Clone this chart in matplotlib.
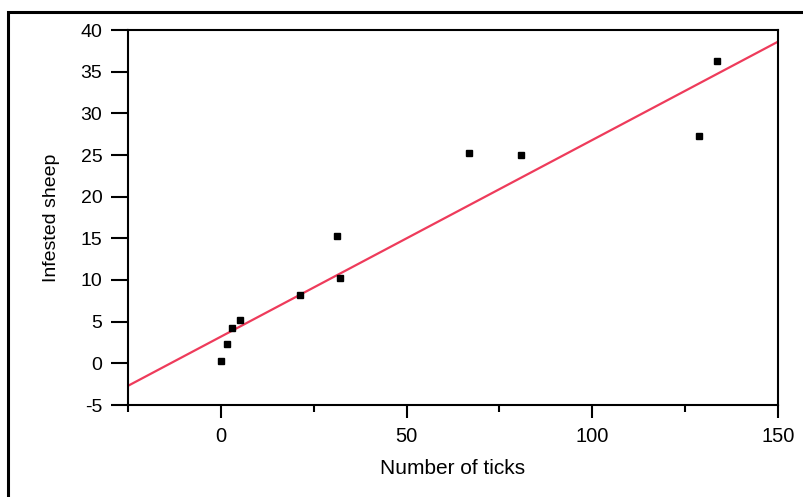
import matplotlib.pyplot as plt
import matplotlib.patches as mpatches
import numpy as np

# values
ticks = [0, 1.6, 3.1, 5.2, 21.2, 31.4, 32.2, 66.8, 80.8, 128.8, 133.6]
sheep = [0.3, 2.3, 4.2, 5.2, 8.2, 15.3, 10.2, 25.2, 25.0, 27.3, 36.3]
fit_slope = 0.236
fit_intercept = 3.2

plt.rcParams['font.family'] = ['Liberation Sans', 'DejaVu Sans']
plt.rcParams['axes.unicode_minus'] = False

fig = plt.figure(figsize=(8.04, 4.97), dpi=100)
ax = fig.add_axes([128 / 804, 1 - 405 / 497, 650 / 804, 375 / 497])

xs = np.array([-25, 150])
ax.plot(xs, fit_intercept + fit_slope * xs, color='#ee3b5b', lw=1.6, zorder=2)
ax.plot(ticks, sheep, 's', color='black', ms=5, zorder=3)

ax.set_xlim(-25, 150)
ax.set_ylim(-5, 40)
ax.set_xticks([0, 50, 100, 150])
ax.set_xticks([-25, 25, 75, 125], minor=True)
ax.set_yticks(range(-5, 41, 5))

for s in ax.spines.values():
    s.set_linewidth(1.5)

ax.tick_params(axis='y', direction='out', length=12.5, width=1.5, pad=6,
               labelsize=14)
ax.tick_params(axis='x', which='major', direction='out', length=9.5,
               width=1.5, pad=6, labelsize=14.5)
ax.tick_params(axis='x', which='minor', direction='out', length=5, width=1.5)

ax.set_xlabel('Number of ticks', fontsize=15, labelpad=10)
ax.set_ylabel('Infested sheep', fontsize=14, labelpad=15)

# outer frame around the figure (runs off the right and bottom edges)
frame = mpatches.Rectangle((8 / 804, -0.1), 1.2, 1.1 - 11.5 / 497,
                           transform=fig.transFigure, fill=False,
                           edgecolor='black', lw=2.2, clip_on=False)
fig.patches.append(frame)

fig.savefig('out.png', dpi=100)
